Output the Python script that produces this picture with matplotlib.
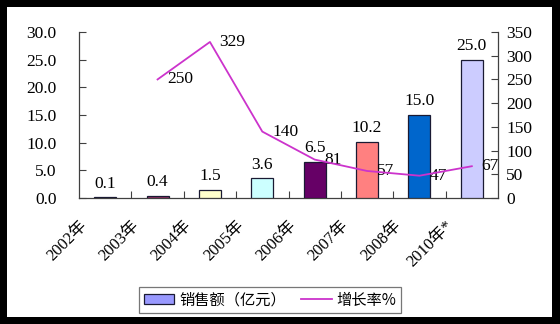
import matplotlib
matplotlib.use("Agg")
import matplotlib.pyplot as plt
import numpy as np
from matplotlib.patches import Rectangle, Patch
from matplotlib.lines import Line2D
from matplotlib.transforms import ScaledTranslation

plt.rcParams["font.family"] = ["Liberation Serif", "Noto Sans CJK SC"]

# ── data ─────────────────────────────
years  = ["2002年", "2003年", "2004年", "2005年", "2006年", "2007年", "2008年", "2010年*"]
sales  = [0.1, 0.4, 1.5, 3.6, 6.5, 10.2, 15.0, 25.0]
growth_idx = [1, 2, 3, 4, 5, 6, 7]
growth = [250, 329, 140, 81, 57, 47, 67]

bar_colors = ["#9999FF", "#993366", "#FFFFCC", "#CCFFFF",
              "#660066", "#FF8080", "#0066CC", "#CCCCFF"]
LINE_C = "#CC33CC"
AX_C = "#404040"
FS = 12.5

fig = plt.figure(figsize=(5.6, 3.24), dpi=100)
fig.patch.set_facecolor("black")
fig.add_artist(Rectangle((7 / 560, 7 / 324), 545 / 560, 310 / 324,
                         transform=fig.transFigure, facecolor="white",
                         edgecolor="none", zorder=-10))

ax = fig.add_axes([79 / 560, 1 - 198 / 324, 419 / 560, 166 / 324])
ax.patch.set_alpha(0)
x = np.arange(len(years))

ax.bar(x, sales, width=0.42, color=bar_colors, edgecolor="#1a1a33",
       linewidth=0.9, zorder=3)
for xi, v in zip(x, sales):
    ax.annotate(f"{v:.1f}", (xi, v), textcoords="offset points",
                xytext=(0, 4), ha="center", va="bottom", fontsize=FS)

ax.set_xlim(-0.5, len(years) - 0.5)
ax.set_ylim(0, 30)
ax.set_yticks(np.arange(0, 30.1, 5))
ax.set_yticklabels([f"{v:.1f}" for v in np.arange(0, 30.1, 5)])

# category boundary ticks, labels at centres
ax.set_xticks(np.arange(0.5, len(years) - 0.5, 1))
ax.set_xticklabels([])
ax.set_xticks(x, minor=True)
ax.set_xticklabels(years, minor=True, rotation=45, ha="right", va="top",
                   rotation_mode="anchor", fontsize=12)
ax.tick_params(axis="x", which="major", direction="in", length=5,
               color=AX_C, width=0.8)
ax.tick_params(axis="x", which="minor", length=0, pad=0)
for lab in ax.get_xticklabels(minor=True):
    lab.set_transform(lab.get_transform() +
                      ScaledTranslation(-19 / 72, -14 / 72, fig.dpi_scale_trans))
ax.tick_params(axis="y", direction="in", length=5, color=AX_C, width=0.8,
               labelsize=FS, pad=16)

for s in ["top", "right"]:
    ax.spines[s].set_visible(False)
for s in ["left", "bottom"]:
    ax.spines[s].set_color(AX_C)
    ax.spines[s].set_linewidth(0.9)

# ── growth rate on right axis ─────────────
ax2 = ax.twinx()
ax2.plot(growth_idx, growth, color=LINE_C, linewidth=1.3, zorder=4)
for xi, v in zip(growth_idx, growth):
    ax2.annotate(f"{v}", (xi, v), textcoords="offset points",
                 xytext=(7, 0), ha="left", va="center", fontsize=FS)
ax2.set_ylim(0, 350)
ax2.set_yticks(np.arange(0, 351, 50))
ax2.tick_params(axis="y", direction="in", length=5, color=AX_C, width=0.8,
                labelsize=FS, pad=6)
for s in ["top", "left", "bottom"]:
    ax2.spines[s].set_visible(False)
ax2.spines["right"].set_color(AX_C)
ax2.spines["right"].set_linewidth(0.9)

handles = [
    Patch(facecolor="#9999FF", edgecolor="#1a1a33", linewidth=0.9,
          label="销售额（亿元）"),
    Line2D([0], [0], color=LINE_C, linewidth=1.3, label="增长率%"),
]
leg = fig.legend(handles=handles, loc="center", ncol=2,
                 bbox_to_anchor=(270 / 560, 1 - 300 / 324),
                 frameon=True, fancybox=False,
                 edgecolor="#555555", handlelength=2.0, handleheight=0.6,
                 handletextpad=0.3, columnspacing=1.0, borderpad=0.3,
                 prop={"family": ["Noto Sans CJK SC"], "size": 11})
leg.get_frame().set_linewidth(0.9)

fig.savefig("out.png", dpi=100, facecolor=fig.get_facecolor())
